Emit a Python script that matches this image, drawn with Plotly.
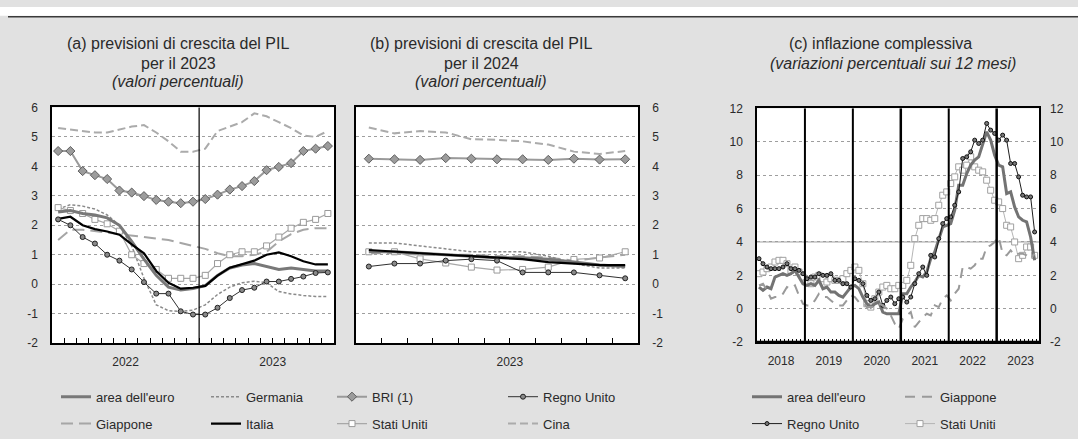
import plotly.graph_objects as go

# ---------------- data ----------------
# Panel (a): forecast vintages Jan 2022 .. Nov 2023 (growth forecasts for 2023)
vint_a = [i + 0.5 for i in range(23)]
a_area = [2.45, 2.5, 2.4, 2.35, 2.25, 2.0, 1.45, 0.85, 0.3, -0.1, -0.2, -0.15, -0.05, 0.3, 0.55, 0.65, 0.7, 0.6, 0.5, 0.55, 0.5, 0.45, 0.45]
a_ger = [2.55, 2.7, 2.65, 2.55, 2.35, 2.0, 1.3, 0.2, -0.7, -0.9, -0.92, -0.88, -0.7, -0.35, -0.1, 0.05, 0.1, 0.05, -0.25, -0.33, -0.38, -0.42, -0.42]
a_jpn = [1.5, 1.85, 1.85, 1.8, 1.75, 1.7, 1.65, 1.6, 1.55, 1.5, 1.4, 1.3, 1.2, 1.05, 0.95, 0.95, 1.0, 1.1, 1.45, 1.7, 1.85, 1.9, 1.9]
a_ita = [2.22, 2.29, 2.0, 1.87, 1.79, 1.68, 1.35, 1.05, 0.45, 0.05, -0.15, -0.12, -0.06, 0.29, 0.56, 0.67, 0.8, 1.0, 1.08, 0.95, 0.78, 0.67, 0.67]
a_bri = [4.52, 4.52, 3.84, 3.7, 3.57, 3.18, 3.11, 2.99, 2.86, 2.8, 2.75, 2.8, 2.89, 3.04, 3.21, 3.33, 3.5, 3.87, 3.98, 4.11, 4.52, 4.6, 4.69]
a_uk = [2.2, 2.0, 1.6, 1.38, 1.0, 0.8, 0.5, 0.07, -0.32, -0.32, -0.92, -1.03, -1.03, -0.8, -0.47, -0.2, -0.12, 0.09, 0.09, 0.18, 0.26, 0.38, 0.4]
a_us = [2.6, 2.5, 2.4, 2.2, 2.05, 1.8, 1.0, 0.7, 0.5, 0.2, 0.2, 0.2, 0.3, 0.7, 1.0, 1.1, 1.1, 1.3, 1.6, 1.9, 2.1, 2.2, 2.4]
a_chn = [5.3, 5.25, 5.2, 5.15, 5.15, 5.25, 5.35, 5.4, 5.15, 4.85, 4.5, 4.5, 4.6, 5.2, 5.35, 5.5, 5.8, 5.7, 5.5, 5.3, 5.05, 5.0, 5.2]

# Panel (b): forecast vintages Jan .. Nov 2023 (growth forecasts for 2024)
vint_b = [i + 0.5 for i in range(11)]
b_area = [1.1, 1.1, 1.05, 1.0, 0.95, 0.9, 0.9, 0.85, 0.75, 0.65, 0.6]
b_ger = [1.4, 1.4, 1.3, 1.2, 1.1, 1.1, 1.1, 0.95, 0.7, 0.55, 0.55]
b_jpn = [1.05, 1.05, 1.0, 1.0, 1.0, 0.95, 0.95, 0.9, 0.8, 0.9, 1.0]
b_ita = [1.16, 1.1, 1.05, 1.0, 0.95, 0.9, 0.85, 0.75, 0.7, 0.65, 0.65]
b_bri = [4.26, 4.24, 4.22, 4.28, 4.26, 4.24, 4.24, 4.22, 4.26, 4.23, 4.24]
b_uk = [0.6, 0.7, 0.7, 0.8, 0.85, 0.8, 0.4, 0.4, 0.4, 0.3, 0.2]
b_us = [1.1, 1.1, 0.86, 0.72, 0.58, 0.48, 0.5, 0.58, 0.84, 0.89, 1.1]
b_chn = [5.32, 5.12, 5.2, 5.15, 4.92, 4.9, 4.85, 4.74, 4.5, 4.42, 4.52]

# Panel (c): monthly headline inflation Jan 2018 .. Oct 2023
month_c = [i + 0.5 for i in range(70)]
c_area = [1.3, 1.1, 1.3, 1.2, 1.9, 2.0, 2.1, 2.0, 2.1, 2.3, 1.9, 1.5,
          1.4, 1.5, 1.4, 1.7, 1.2, 1.3, 1.0, 1.0, 0.8, 0.7, 1.0, 1.3,
          1.4, 1.2, 0.7, 0.3, 0.1, 0.3, 0.4, -0.2, -0.3, -0.3, -0.3, -0.3,
          0.9, 0.9, 1.3, 1.6, 2.0, 1.9, 2.2, 3.0, 3.4, 4.1, 4.9, 5.0,
          5.1, 5.9, 7.4, 7.4, 8.1, 8.6, 8.9, 9.1, 9.9, 10.6, 10.1, 9.2,
          8.6, 8.5, 6.9, 7.0, 6.1, 5.5, 5.3, 5.2, 4.3, 2.9]
c_jpn = [1.4, 1.5, 1.1, 0.6, 0.7, 0.7, 0.9, 1.3, 1.2, 1.4, 0.8, 0.3,
         0.2, 0.2, 0.5, 0.9, 0.7, 0.7, 0.5, 0.3, 0.2, 0.2, 0.5, 0.8,
         0.7, 0.4, 0.4, 0.1, 0.1, 0.1, 0.3, 0.2, 0.0, -0.4, -0.9, -1.2,
         -0.6, -0.4, -0.2, -1.1, -0.8, -0.5, -0.3, -0.4, 0.2, 0.1, 0.6, 0.8,
         0.5, 0.9, 1.2, 2.5, 2.5, 2.4, 2.6, 3.0, 3.0, 3.7, 3.8, 4.0,
         4.3, 3.3, 3.2, 3.5, 3.2, 3.3, 3.3, 3.2, 3.0, 3.3]
c_uk = [3.0, 2.7, 2.5, 2.4, 2.4, 2.4, 2.5, 2.7, 2.4, 2.4, 2.3, 2.1,
        1.8, 1.9, 1.9, 2.1, 2.0, 2.0, 2.1, 1.7, 1.7, 1.5, 1.5, 1.3,
        1.8, 1.7, 1.5, 0.8, 0.5, 0.6, 1.0, 0.2, 0.5, 0.7, 0.3, 0.6,
        0.7, 0.4, 0.7, 1.5, 2.1, 2.5, 2.0, 3.2, 3.1, 4.2, 5.1, 5.4,
        5.5, 6.2, 7.0, 9.0, 9.1, 9.4, 10.1, 9.9, 10.1, 11.1, 10.7, 10.5,
        10.1, 10.4, 10.1, 8.7, 8.7, 7.9, 6.8, 6.7, 6.7, 4.6]
c_us = [2.1, 2.2, 2.4, 2.5, 2.8, 2.9, 2.9, 2.7, 2.3, 2.5, 2.2, 1.9,
        1.6, 1.5, 1.9, 2.0, 1.8, 1.6, 1.8, 1.7, 1.7, 1.8, 2.1, 2.3,
        2.5, 2.3, 1.5, 0.3, 0.1, 0.6, 1.0, 1.3, 1.4, 1.2, 1.2, 1.4,
        1.4, 1.7, 2.6, 4.2, 5.0, 5.4, 5.4, 5.3, 5.4, 6.2, 6.8, 7.0,
        7.5, 7.9, 8.5, 8.3, 8.6, 9.1, 8.5, 8.3, 8.2, 7.7, 7.1, 6.5,
        6.4, 6.0, 5.0, 4.9, 4.0, 3.0, 3.2, 3.7, 3.7, 3.2]

gdp_ticks = [-2, -1, 0, 1, 2, 3, 4, 5, 6]
gdp_ticktext = ["-2", "-1", "0", "1", "2", "3", "4", "5", "6"]
inf_ticks = [-2, 0, 2, 4, 6, 8, 10, 12]
inf_ticktext = ["-2", "0", "2", "4", "6", "8", "10", "12"]
years_a = ["2022", "2023"]
years_c = ["2018", "2019", "2020", "2021", "2022", "2023"]

# ---------------- styles ----------------
FONT = "Liberation Sans, Arial, sans-serif"
TXT = "#2a2a2a"
BG = "#e1e1e1"

styles = {
    "area": dict(mode="lines", line=dict(color="#787878", width=3)),
    "ger": dict(mode="lines", line=dict(color="#8a8a8a", width=1.5, dash="3px,2px")),
    "jpn": dict(mode="lines", line=dict(color="#a6a6a6", width=2, dash="12px,6px")),
    "ita": dict(mode="lines", line=dict(color="#000000", width=2.2)),
    "bri": dict(mode="lines+markers", line=dict(color="#9a9a9a", width=2),
                marker=dict(symbol="diamond", size=7, color="#9c9c9c", line=dict(color="#5e5e5e", width=1))),
    "uk": dict(mode="lines+markers", line=dict(color="#303030", width=1),
               marker=dict(symbol="circle", size=5, color="#8a8a8a", line=dict(color="#222222", width=1))),
    "us": dict(mode="lines+markers", line=dict(color="#a8a8a8", width=1.2),
               marker=dict(symbol="square", size=6, color="#ffffff", line=dict(color="#999999", width=1))),
    "chn": dict(mode="lines", line=dict(color="#ababab", width=2, dash="8px,4px")),
}
names = {"area": "area dell'euro", "ger": "Germania", "jpn": "Giappone", "ita": "Italia",
         "bri": "BRI (1)", "uk": "Regno Unito", "us": "Stati Uniti", "chn": "Cina"}
# legend placement (legend id, rank) for panels a/b
leg_ab = {"area": ("legend", 1), "jpn": ("legend", 2), "ger": ("legend2", 1), "ita": ("legend2", 2),
          "bri": ("legend3", 1), "us": ("legend3", 2), "uk": ("legend4", 1), "chn": ("legend4", 2)}

fig = go.Figure()

series_a = {"chn": a_chn, "jpn": a_jpn, "ger": a_ger, "us": a_us, "area": a_area, "ita": a_ita, "uk": a_uk, "bri": a_bri}
series_b = {"chn": b_chn, "jpn": b_jpn, "ger": b_ger, "us": b_us, "area": b_area, "ita": b_ita, "uk": b_uk, "bri": b_bri}

for key, vals in series_a.items():
    lg, rk = leg_ab[key]
    fig.add_trace(go.Scatter(x=vint_a, y=vals, name=names[key], xaxis="x", yaxis="y",
                             legend=lg, legendrank=rk, legendgroup=key, showlegend=True,
                             **styles[key]))
for key, vals in series_b.items():
    fig.add_trace(go.Scatter(x=vint_b, y=vals, name=names[key], xaxis="x2", yaxis="y2",
                             showlegend=False, **styles[key]))

c_styles = {
    "jpn": dict(mode="lines", line=dict(color="#9a9a9a", width=2, dash="10px,7px")),
    "us": dict(mode="lines+markers", line=dict(color="#b5b5b5", width=1),
               marker=dict(symbol="square", size=6, color="#ffffff", line=dict(color="#a0a0a0", width=1))),
    "area": dict(mode="lines", line=dict(color="#737373", width=3)),
    "uk": dict(mode="lines+markers", line=dict(color="#1e1e1e", width=1),
               marker=dict(symbol="circle", size=4, color="#777777", line=dict(color="#111111", width=1))),
}
series_c = {"jpn": c_jpn, "us": c_us, "area": c_area, "uk": c_uk}
leg_c = {"area": ("legend5", 1), "uk": ("legend5", 2), "jpn": ("legend6", 1), "us": ("legend6", 2)}
for key, vals in series_c.items():
    lg, rk = leg_c[key]
    fig.add_trace(go.Scatter(x=month_c, y=vals, name=names[key], xaxis="x3",
                             yaxis="y4" if key == "jpn" else "y3",
                             legend=lg, legendrank=rk, legendgroup="c" + key, showlegend=True,
                             **c_styles[key]))

# ---------------- axes ----------------
W, H = 1078, 439
def px(x):
    return x / W
def py(y):
    return 1 - y / H

ydom = [py(348), py(104)]
ydom_c = [py(347), py(105)]

tick_font = dict(family=FONT, size=12, color=TXT)
common_x = dict(showline=True, linecolor="black", linewidth=1.5, mirror=True, showgrid=False,
                zeroline=False, ticks="inside", tickcolor="black", tickfont=tick_font,
                ticklabelstandoff=7, tickmode="array")
common_y = dict(showline=True, linecolor="black", linewidth=1.5, mirror=True, showgrid=True,
                gridcolor="#9e9e9e", griddash="dot", gridwidth=1, zeroline=False, ticks="",
                tickfont=tick_font, ticklabelstandoff=10, tickmode="array")

n_a = len(vint_a)
xa_vals = list(range(1, n_a))
xa_text = ["" for _ in xa_vals]
for i, yr in enumerate(years_a):
    xa_text[xa_vals.index(6 + 12 * i)] = yr

n_b = len(vint_b)
xb_vals = list(range(1, n_b))
xb_text = ["2023" if v == 6 else "" for v in xb_vals]

n_c = len(month_c)
xc_vals = list(range(1, 71))
xc_text = ["" for _ in xc_vals]
for i, yr in enumerate(years_c):
    xc_text[xc_vals.index(6 + 12 * i)] = yr

fig.update_layout(
    xaxis=dict(domain=[px(52), px(334)], range=[0, n_a], tickvals=xa_vals, ticktext=xa_text,
               ticklen=5, anchor="y", **common_x),
    yaxis=dict(domain=ydom, range=[-2, 6], tickvals=gdp_ticks, ticktext=gdp_ticktext,
               anchor="x", side="left", **common_y),
    xaxis2=dict(domain=[px(356), px(638)], range=[0, n_b], tickvals=xb_vals, ticktext=xb_text,
                ticklen=5, anchor="y2", **common_x),
    yaxis2=dict(domain=ydom, range=[-2, 6], tickvals=gdp_ticks, ticktext=gdp_ticktext,
                anchor="x2", side="right", **common_y),
    xaxis3=dict(domain=[px(757), px(1039)], range=[0, 70.6], tickvals=xc_vals, ticktext=xc_text,
                ticklen=3, anchor="y3", **common_x),
    yaxis3=dict(domain=ydom_c, range=[-2, 12], tickvals=inf_ticks, ticktext=inf_ticktext,
                anchor="x3", side="left", **common_y),
    yaxis4=dict(range=[-2, 12], tickvals=inf_ticks, ticktext=inf_ticktext, overlaying="y3",
                anchor="x3", side="right", showgrid=False, zeroline=False, ticks="",
                tickfont=tick_font, ticklabelstandoff=10, tickmode="array", showline=False),
)

# bottom axis of panel c thicker, vertical year lines
shapes = []
shapes.append(dict(type="line", xref="x3", yref="y3", x0=0, x1=70.6, y0=-2, y1=-2,
                   line=dict(color="black", width=3)))
for i in range(1, len(years_c)):
    shapes.append(dict(type="line", xref="x3", yref="y3 domain", x0=12 * i, x1=12 * i, y0=0, y1=1,
                       line=dict(color="black", width=2.5 if i in (3, 5) else 2)))
shapes.append(dict(type="line", xref="x", yref="y domain", x0=12, x1=12, y0=0, y1=1,
                   line=dict(color="black", width=1.2)))
shapes.append(dict(type="line", xref="x3", yref="y3", x0=0, x1=70.6, y0=4, y1=4,
                   line=dict(color="#a0a0a0", width=1), layer="below"))
# top white band and rule
shapes.append(dict(type="rect", xref="paper", yref="paper", x0=0, x1=1, y0=py(9), y1=1,
                   fillcolor="white", line=dict(width=0), layer="below"))
shapes.append(dict(type="line", xref="paper", yref="paper", x0=px(8), x1=1, y0=py(10), y1=py(10),
                   line=dict(color="#3a3a3a", width=1.5)))
fig.update_layout(shapes=shapes)

# ---------------- titles ----------------
title_font = dict(family=FONT, size=16, color=TXT)
titles = [
    (178, 38, "(a) previsioni di crescita del PIL"),
    (178, 58, "per il 2023"),
    (178, 77, "<i>(valori percentuali)</i>"),
    (481, 38, "(b) previsioni di crescita del PIL"),
    (481, 58, "per il 2024"),
    (481, 77, "<i>(valori percentuali)</i>"),
    (880, 38, "(c) inflazione complessiva"),
    (893, 58, "<i>(variazioni percentuali sui 12 mesi)</i>"),
]
fig.update_layout(annotations=[
    dict(x=px(x), y=py(y), xref="paper", yref="paper", text=t, showarrow=False,
         xanchor="center", yanchor="middle", font=title_font) for x, y, t in titles
])

# ---------------- legends ----------------
leg_font = dict(family=FONT, size=13, color=TXT)
def legend_at(xtext):
    return dict(x=px(xtext - 40), y=py(388), xanchor="left", yanchor="top", orientation="v",
                bgcolor="rgba(0,0,0,0)", font=leg_font, traceorder="grouped", tracegroupgap=7,
                itemclick=False, itemdoubleclick=False)

fig.update_layout(
    legend=legend_at(96), legend2=legend_at(246), legend3=legend_at(372),
    legend4=legend_at(543), legend5=legend_at(787), legend6=legend_at(940),
)

fig.update_layout(
    width=W, height=H, margin=dict(l=0, r=0, t=0, b=0),
    paper_bgcolor=BG, plot_bgcolor="white", font=dict(family=FONT, color=TXT),
    showlegend=True,
)

fig.write_html("out.html")
